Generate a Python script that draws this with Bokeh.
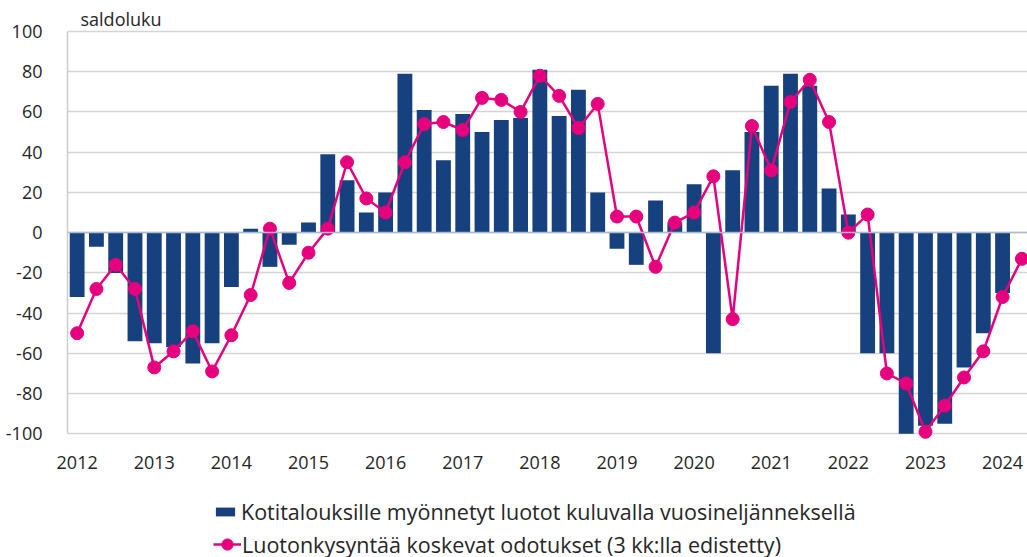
from bokeh.plotting import figure
from bokeh.models import (ColumnDataSource, Range1d, FixedTicker, Legend,
                          LegendItem, BoxAnnotation, Label, AllLabels)
from bokeh.embed import file_html
from bokeh.resources import INLINE

# ---- data (quarterly, 2012Q1 ...) ----
years = ["2012", "2013", "2014", "2015", "2016", "2017", "2018",
         "2019", "2020", "2021", "2022", "2023", "2024"]

# Kotitalouksille myönnetyt luotot kuluvalla vuosineljänneksellä (2012Q1-2024Q1)
bars = [-32, -7, -20, -54,
        -55, -57, -65, -55,
        -27, 2, -17, -6,
        5, 39, 26, 10,
        20, 79, 61, 36,
        59, 50, 56, 57,
        81, 58, 71, 20,
        -8, -16, 16, 5,
        24, -60, 31, 50,
        73, 79, 73, 22,
        9, -60, -60, -100,
        -96, -95, -67, -50,
        -30]

# Luotonkysyntää koskevat odotukset (3 kk:lla edistetty) (2012Q1-2024Q2)
line = [-50, -28, -16, -28,
        -67, -59, -49, -69,
        -51, -31, 2, -25,
        -10, 2, 35, 17,
        10, 35, 54, 55,
        51, 67, 66, 60,
        78, 68, 52, 64,
        8, 8, -17, 5,
        10, 28, -43, 53,
        31, 65, 76, 55,
        0, 9, -70, -75,
        -99, -86, -72, -59,
        -32, -13]

y_ticks = [-100, -80, -60, -40, -20, 0, 20, 40, 60, 80, 100]
y_tick_labels = ["-100", "-80", "-60", "-40", "-20", "0",
                 "20", "40", "60", "80", "100"]

unit_label = "saldoluku"
bar_label = "Kotitalouksille myönnetyt luotot kuluvalla vuosineljänneksellä"
line_label = "Luotonkysyntää koskevat odotukset (3 kk:lla edistetty)"

BLUE = "#17407e"
MAGENTA = "#e6007e"
FONT = "Open Sans"
TXT = "#262626"

# ---- layout geometry (the frame covers the whole canvas) ----
W, H = 1027, 557
TOP = 31              # pixel of value 100
AXIS_X = 67           # pixel of the value axis line
PITCH = 19.28         # pixels per quarter
PX_PER_UNIT = 2.0115  # pixels per saldoluku unit
x_start = -0.5 - AXIS_X / PITCH
x_end = x_start + W / PITCH
y_max = 100 + TOP / PX_PER_UNIT
y_min = 100 - (H - TOP) / PX_PER_UNIT

bar_src = ColumnDataSource(dict(x=list(range(len(bars))), y=bars))
line_src = ColumnDataSource(dict(x=list(range(len(line))), y=line))

p = figure(width=W, height=H, output_backend="svg", toolbar_location=None,
           x_range=Range1d(x_start, x_end), y_range=Range1d(y_min, y_max),
           min_border=0)
p.outline_line_color = None
p.background_fill_color = "white"
p.border_fill_color = "white"

# category axis crosses at 0 (its line is the zero line); labels sit low, below -100
p.xaxis.fixed_location = 0
p.xaxis.bounds = (-0.5, x_end)
p.xaxis.ticker = FixedTicker(ticks=[4 * i for i in range(len(years))])
p.xaxis.major_label_overrides = {4 * i: y for i, y in enumerate(years)}
p.xaxis.axis_line_color = "#a9bad3"
p.xaxis.axis_line_width = 1.5
p.xaxis.major_tick_line_color = None
p.xaxis.minor_tick_line_color = None
p.xaxis.major_label_standoff = 16 + round(100 * PX_PER_UNIT)
p.xaxis.major_label_text_font = FONT
p.xaxis.major_label_text_font_size = "18px"
p.xaxis.major_label_text_color = TXT

p.yaxis.fixed_location = -0.5
p.yaxis.ticker = FixedTicker(ticks=y_ticks)
p.yaxis.major_label_overrides = dict(zip(y_ticks, y_tick_labels))
p.yaxis.major_label_policy = AllLabels()
p.yaxis.bounds = (-100, 100)
p.yaxis.axis_line_color = "#cccccc"
p.yaxis.axis_line_width = 1.5
p.yaxis.major_tick_line_color = None
p.yaxis.minor_tick_line_color = None
p.yaxis.major_label_standoff = 19
p.yaxis.major_label_text_font = FONT
p.yaxis.major_label_text_font_size = "18px"
p.yaxis.major_label_text_color = TXT

p.xgrid.grid_line_color = None
p.ygrid.grid_line_color = "#d4d4d4"
p.ygrid.grid_line_width = 1.5

# keep gridlines from running under the value-axis labels
p.add_layout(BoxAnnotation(right=-0.5, fill_color="white", fill_alpha=1.0,
                           line_color=None, level="underlay"))

p.add_layout(Label(x=x_start + 80 / PITCH, y=100 + 13 / PX_PER_UNIT,
                   text=unit_label, text_font=FONT, text_font_size="18px",
                   text_color=TXT, text_baseline="middle", text_align="left"))

vb = p.vbar(x="x", top="y", bottom=0, width=0.77, source=bar_src,
            fill_color=BLUE, line_color=None)

ln = p.line(x="x", y="y", source=line_src, line_color=MAGENTA, line_width=2.5)
sc = p.scatter(x="x", y="y", source=line_src, size=13, marker="circle",
               fill_color=MAGENTA, line_color=MAGENTA)

leg1 = Legend(items=[LegendItem(label=bar_label, renderers=[vb])],
              location=(213, 31), glyph_width=24, glyph_height=11,
              label_standoff=4, padding=0, margin=0, spacing=0,
              border_line_color=None, background_fill_alpha=0,
              label_text_font=FONT, label_text_font_size="21.5px",
              label_text_color=TXT, label_height=30)
leg2 = Legend(items=[LegendItem(label=line_label, renderers=[ln, sc])],
              location=(213, -2), glyph_width=28, glyph_height=30,
              label_standoff=1, padding=0, margin=0, spacing=0,
              border_line_color=None, background_fill_alpha=0,
              label_text_font=FONT, label_text_font_size="21.5px",
              label_text_color=TXT, label_height=30)
p.add_layout(leg1)
p.add_layout(leg2)

open("out.html", "w").write(file_html(p, INLINE))
